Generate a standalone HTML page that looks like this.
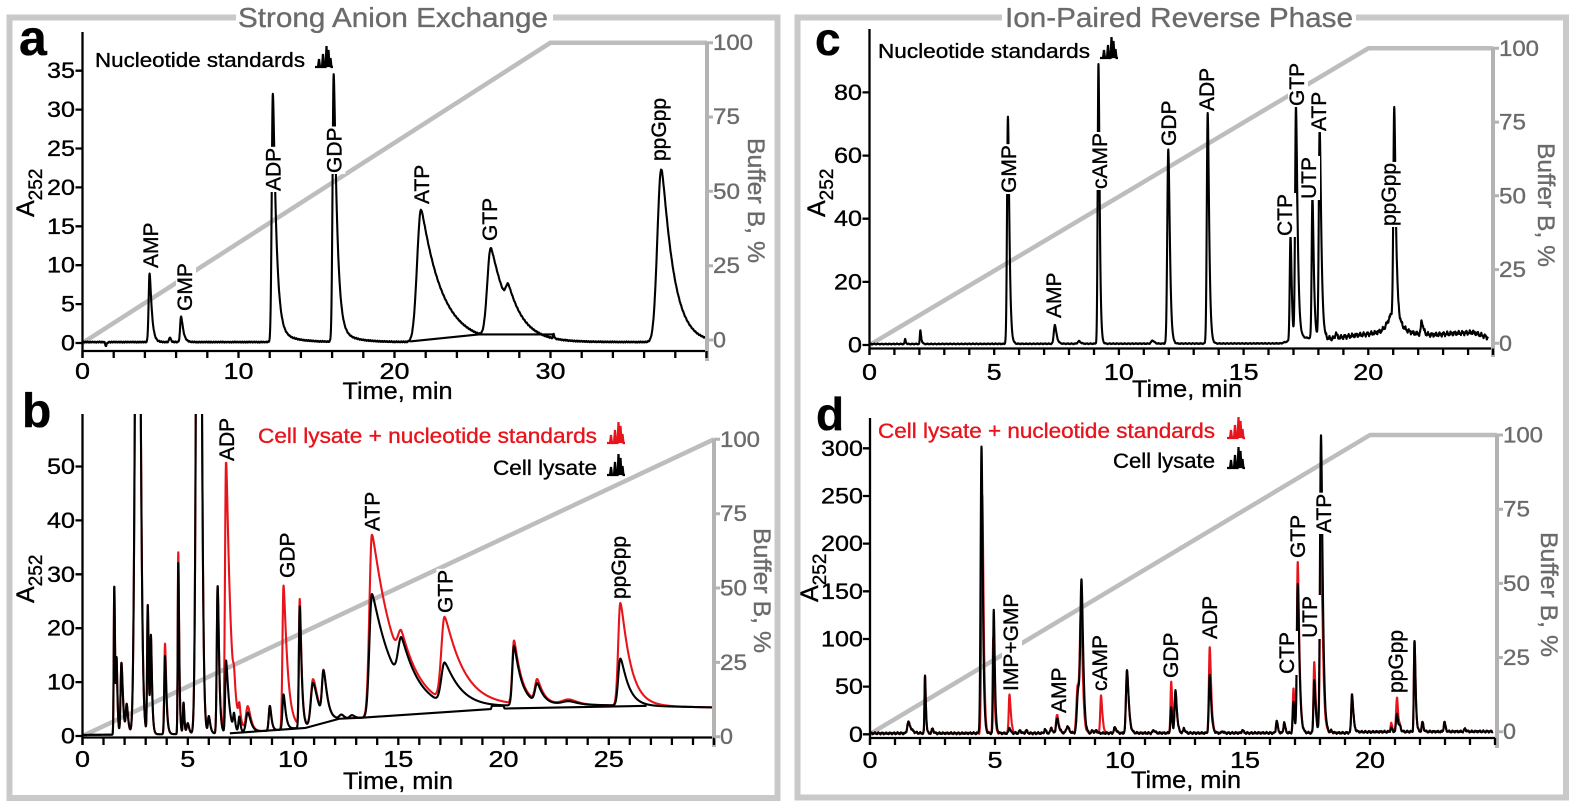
<!DOCTYPE html>
<html><head><meta charset="utf-8">
<style>
html,body{margin:0;padding:0;background:#fff;}
svg{display:block;font-family:"Liberation Sans",Arial,sans-serif;}
text{stroke:#000;stroke-width:0.35px;}
.yt{font-size:22px;text-anchor:end;}
.xt{font-size:23px;text-anchor:middle;}
.rt{font-size:22px;fill:#6b6b6b;}
.rt text,.gt{stroke:#6b6b6b;}
.rd{stroke:#e8141c;}
.pl{font-size:21px;}
.ax{stroke:#000;stroke-width:2.3;fill:none;}
.rax{stroke:#b3b3b3;stroke-width:4;fill:none;}
.grd{stroke:#bdbdbd;stroke-width:4.5;fill:none;stroke-linejoin:round;}
.frm{stroke:#c9c9c9;stroke-width:6;fill:none;}
.blk{stroke:#000;stroke-width:2.1;fill:none;stroke-linejoin:round;}
.red{stroke:#e8141c;stroke-width:2.1;fill:none;stroke-linejoin:round;}
.ic{stroke-width:2.2;fill:none;}
</style></head><body>
<svg id="s" width="1575" height="807" viewBox="0 0 1575 807" xmlns="http://www.w3.org/2000/svg">
<defs>
<clipPath id="cb"><rect x="83" y="414" width="640" height="340"/></clipPath>
<clipPath id="cd"><rect x="871" y="418" width="630" height="330"/></clipPath>
</defs>
<rect width="1575" height="807" fill="#fff"/>

<!-- frames -->
<path class="frm" d="M236,17.5 H9.5 V798 H777.5 V17.5 H553"/>
<path class="frm" d="M1002,17.5 H797.5 V797.5 H1566 V17.5 H1356"/>
<text class="gt" x="238" y="27" font-size="28" fill="#6b6b6b" textLength="310" lengthAdjust="spacingAndGlyphs">Strong Anion Exchange</text>
<text class="gt" x="1005" y="27" font-size="28" fill="#6b6b6b" textLength="348" lengthAdjust="spacingAndGlyphs">Ion-Paired Reverse Phase</text>

<!-- gradients -->
<path class="grd" d="M82.5,343 L550.5,42.7 L707,42.7"/>
<path class="grd" d="M82.5,736 L714,439.3"/>
<path class="grd" d="M869.5,345 L1368.3,48.3 L1493,48.3"/>
<path class="grd" d="M870,734 L1370,435 L1497,435"/>

<!-- data -->
<g id="dA"></g>
<g id="dB" clip-path="url(#cb)"></g>
<g id="dC"></g>
<g id="dD" clip-path="url(#cd)"></g>

<!-- axes -->
<g id="axes">
<path class="ax" d="M82.5,32 V358 M82.5,351 H706.5"/>
<path class="ax" d="M82.5,414 V745 M82.5,737.5 H714"/>
<path class="ax" d="M869.5,29 V355 M869.5,348.5 H1493"/>
<path class="ax" d="M870,418 V745 M870,738 H1495"/>
<path class="rax" d="M707,42 V361"/>
<path class="rax" d="M714,439 V747"/>
<path class="rax" d="M1493,48 V357"/>
<path class="rax" d="M1497,435 V748"/>
</g>
<g id="ticks"></g>

<!-- panel letters -->
<text x="19" y="55" font-size="50" font-weight="bold">a</text>
<text x="22" y="427" font-size="48" font-weight="bold">b</text>
<text x="815" y="55" font-size="46" font-weight="bold">c</text>
<text x="816" y="430" font-size="46" font-weight="bold">d</text>

<!-- A252 -->
<text transform="translate(34,217) rotate(-90)" font-size="25">A<tspan font-size="19" dy="8">252</tspan></text>
<text transform="translate(34,603) rotate(-90)" font-size="25">A<tspan font-size="19" dy="8">252</tspan></text>
<text transform="translate(825,217) rotate(-90)" font-size="25">A<tspan font-size="19" dy="8">252</tspan></text>
<text transform="translate(818,602) rotate(-90)" font-size="25">A<tspan font-size="19" dy="8">252</tspan></text>

<!-- Buffer B -->
<text class="gt" transform="translate(748,138) rotate(90)" font-size="24" fill="#6b6b6b" textLength="125" lengthAdjust="spacingAndGlyphs">Buffer B, %</text>
<text class="gt" transform="translate(754,528) rotate(90)" font-size="24" fill="#6b6b6b" textLength="125" lengthAdjust="spacingAndGlyphs">Buffer B, %</text>
<text class="gt" transform="translate(1538,143) rotate(90)" font-size="24" fill="#6b6b6b" textLength="124" lengthAdjust="spacingAndGlyphs">Buffer B, %</text>
<text class="gt" transform="translate(1541,532) rotate(90)" font-size="24" fill="#6b6b6b" textLength="125" lengthAdjust="spacingAndGlyphs">Buffer B, %</text>

<!-- Time labels -->
<text x="342.5" y="399" font-size="24" textLength="110" lengthAdjust="spacingAndGlyphs">Time, min</text>
<text x="343" y="789" font-size="24" textLength="110" lengthAdjust="spacingAndGlyphs">Time, min</text>
<text x="1132" y="397" font-size="24" textLength="110" lengthAdjust="spacingAndGlyphs">Time, min</text>
<text x="1131" y="788" font-size="24" textLength="110" lengthAdjust="spacingAndGlyphs">Time, min</text>

<!-- panel a tick labels -->
<g class="yt">
<text x="75" y="350.5" textLength="14" lengthAdjust="spacingAndGlyphs">0</text>
<text x="75" y="311.6" textLength="14" lengthAdjust="spacingAndGlyphs">5</text>
<text x="75" y="272.7" textLength="28" lengthAdjust="spacingAndGlyphs">10</text>
<text x="75" y="233.8" textLength="28" lengthAdjust="spacingAndGlyphs">15</text>
<text x="75" y="194.9" textLength="28" lengthAdjust="spacingAndGlyphs">20</text>
<text x="75" y="156" textLength="28" lengthAdjust="spacingAndGlyphs">25</text>
<text x="75" y="117.1" textLength="28" lengthAdjust="spacingAndGlyphs">30</text>
<text x="75" y="78.2" textLength="28" lengthAdjust="spacingAndGlyphs">35</text>
</g>
<g class="xt">
<text x="82.5" y="379" textLength="15" lengthAdjust="spacingAndGlyphs">0</text>
<text x="238.5" y="379" textLength="30" lengthAdjust="spacingAndGlyphs">10</text>
<text x="394.5" y="379" textLength="30" lengthAdjust="spacingAndGlyphs">20</text>
<text x="550.5" y="379" textLength="30" lengthAdjust="spacingAndGlyphs">30</text>
</g>
<g class="rt">
<text x="713" y="50.2" textLength="40" lengthAdjust="spacingAndGlyphs">100</text>
<text x="713" y="124.2" textLength="27" lengthAdjust="spacingAndGlyphs">75</text>
<text x="713" y="199.2" textLength="27" lengthAdjust="spacingAndGlyphs">50</text>
<text x="713" y="273.2" textLength="27" lengthAdjust="spacingAndGlyphs">25</text>
<text x="713" y="347.5" textLength="13" lengthAdjust="spacingAndGlyphs">0</text>
</g>

<!-- panel b tick labels -->
<g class="yt">
<text x="75" y="743.5" textLength="14" lengthAdjust="spacingAndGlyphs">0</text>
<text x="75" y="689.6" textLength="28" lengthAdjust="spacingAndGlyphs">10</text>
<text x="75" y="635.7" textLength="28" lengthAdjust="spacingAndGlyphs">20</text>
<text x="75" y="581.8" textLength="28" lengthAdjust="spacingAndGlyphs">30</text>
<text x="75" y="527.9" textLength="28" lengthAdjust="spacingAndGlyphs">40</text>
<text x="75" y="474" textLength="28" lengthAdjust="spacingAndGlyphs">50</text>
</g>
<g class="xt">
<text x="82.5" y="767" textLength="15" lengthAdjust="spacingAndGlyphs">0</text>
<text x="187.75" y="767" textLength="15" lengthAdjust="spacingAndGlyphs">5</text>
<text x="293" y="767" textLength="30" lengthAdjust="spacingAndGlyphs">10</text>
<text x="398.25" y="767" textLength="30" lengthAdjust="spacingAndGlyphs">15</text>
<text x="503.5" y="767" textLength="30" lengthAdjust="spacingAndGlyphs">20</text>
<text x="608.75" y="767" textLength="30" lengthAdjust="spacingAndGlyphs">25</text>
</g>
<g class="rt">
<text x="720" y="446.8" textLength="40" lengthAdjust="spacingAndGlyphs">100</text>
<text x="720" y="521.2" textLength="27" lengthAdjust="spacingAndGlyphs">75</text>
<text x="720" y="595.5" textLength="27" lengthAdjust="spacingAndGlyphs">50</text>
<text x="720" y="669.9" textLength="27" lengthAdjust="spacingAndGlyphs">25</text>
<text x="720" y="744.2" textLength="13" lengthAdjust="spacingAndGlyphs">0</text>
</g>

<!-- panel c tick labels -->
<g class="yt">
<text x="862" y="352.5" textLength="14" lengthAdjust="spacingAndGlyphs">0</text>
<text x="862" y="289.4" textLength="28" lengthAdjust="spacingAndGlyphs">20</text>
<text x="862" y="226.2" textLength="28" lengthAdjust="spacingAndGlyphs">40</text>
<text x="862" y="163.1" textLength="28" lengthAdjust="spacingAndGlyphs">60</text>
<text x="862" y="99.9" textLength="28" lengthAdjust="spacingAndGlyphs">80</text>
</g>
<g class="xt">
<text x="869.5" y="380" textLength="15" lengthAdjust="spacingAndGlyphs">0</text>
<text x="994.2" y="380" textLength="15" lengthAdjust="spacingAndGlyphs">5</text>
<text x="1118.9" y="380" textLength="30" lengthAdjust="spacingAndGlyphs">10</text>
<text x="1243.6" y="380" textLength="30" lengthAdjust="spacingAndGlyphs">15</text>
<text x="1368.3" y="380" textLength="30" lengthAdjust="spacingAndGlyphs">20</text>
</g>
<g class="rt">
<text x="1499" y="55.8" textLength="40" lengthAdjust="spacingAndGlyphs">100</text>
<text x="1499" y="129.5" textLength="27" lengthAdjust="spacingAndGlyphs">75</text>
<text x="1499" y="203.3" textLength="27" lengthAdjust="spacingAndGlyphs">50</text>
<text x="1499" y="277" textLength="27" lengthAdjust="spacingAndGlyphs">25</text>
<text x="1499" y="350.8" textLength="13" lengthAdjust="spacingAndGlyphs">0</text>
</g>

<!-- panel d tick labels -->
<g class="yt">
<text x="863" y="741.8" textLength="14" lengthAdjust="spacingAndGlyphs">0</text>
<text x="863" y="694.1" textLength="28" lengthAdjust="spacingAndGlyphs">50</text>
<text x="863" y="646.5" textLength="42" lengthAdjust="spacingAndGlyphs">100</text>
<text x="863" y="598.8" textLength="42" lengthAdjust="spacingAndGlyphs">150</text>
<text x="863" y="551.1" textLength="42" lengthAdjust="spacingAndGlyphs">200</text>
<text x="863" y="503.5" textLength="42" lengthAdjust="spacingAndGlyphs">250</text>
<text x="863" y="455.8" textLength="42" lengthAdjust="spacingAndGlyphs">300</text>
</g>
<g class="xt">
<text x="870" y="768" textLength="15" lengthAdjust="spacingAndGlyphs">0</text>
<text x="995" y="768" textLength="15" lengthAdjust="spacingAndGlyphs">5</text>
<text x="1120" y="768" textLength="30" lengthAdjust="spacingAndGlyphs">10</text>
<text x="1245" y="768" textLength="30" lengthAdjust="spacingAndGlyphs">15</text>
<text x="1370" y="768" textLength="30" lengthAdjust="spacingAndGlyphs">20</text>
</g>
<g class="rt">
<text x="1503" y="442.5" textLength="40" lengthAdjust="spacingAndGlyphs">100</text>
<text x="1503" y="516.7" textLength="27" lengthAdjust="spacingAndGlyphs">75</text>
<text x="1503" y="590.9" textLength="27" lengthAdjust="spacingAndGlyphs">50</text>
<text x="1503" y="665" textLength="27" lengthAdjust="spacingAndGlyphs">25</text>
<text x="1503" y="739.2" textLength="13" lengthAdjust="spacingAndGlyphs">0</text>
</g>

<!-- legends -->
<text x="95" y="67" font-size="20" textLength="210" lengthAdjust="spacingAndGlyphs">Nucleotide standards</text>
<text x="878" y="58" font-size="20" textLength="212" lengthAdjust="spacingAndGlyphs">Nucleotide standards</text>
<text class="rd" x="258" y="443" font-size="21" fill="#e8141c" textLength="339" lengthAdjust="spacingAndGlyphs">Cell lysate + nucleotide standards</text>
<text x="493" y="475" font-size="21" textLength="104" lengthAdjust="spacingAndGlyphs">Cell lysate</text>
<text class="rd" x="878" y="438" font-size="21" fill="#e8141c" textLength="337" lengthAdjust="spacingAndGlyphs">Cell lysate + nucleotide standards</text>
<text x="1113" y="468" font-size="21" textLength="102" lengthAdjust="spacingAndGlyphs">Cell lysate</text>
<g id="icons"></g>

<!-- peak labels -->
<g id="plab">
<text class="pl" transform="translate(158,268) rotate(-90)">AMP</text>
<text class="pl" transform="translate(192,311) rotate(-90)">GMP</text>
<text class="pl" transform="translate(280.5,191) rotate(-90)">ADP</text>
<text class="pl" transform="translate(341.5,173) rotate(-90)">GDP</text>
<text class="pl" transform="translate(429,204) rotate(-90)">ATP</text>
<text class="pl" transform="translate(497,241) rotate(-90)">GTP</text>
<text class="pl" transform="translate(666,161) rotate(-90)">ppGpp</text>

<text class="pl" transform="translate(234,461) rotate(-90)">ADP</text>
<text class="pl" transform="translate(294.5,578) rotate(-90)">GDP</text>
<text class="pl" transform="translate(379.5,531) rotate(-90)">ATP</text>
<text class="pl" transform="translate(452.5,613) rotate(-90)">GTP</text>
<text class="pl" transform="translate(626,599) rotate(-90)">ppGpp</text>

<text class="pl" transform="translate(1016,193) rotate(-90)">GMP</text>
<text class="pl" transform="translate(1061,318) rotate(-90)">AMP</text>
<text class="pl" transform="translate(1107,189) rotate(-90)">cAMP</text>
<text class="pl" transform="translate(1176,146) rotate(-90)">GDP</text>
<text class="pl" transform="translate(1214,111) rotate(-90)">ADP</text>
<text class="pl" transform="translate(1292,236) rotate(-90)">CTP</text>
<text class="pl" transform="translate(1304,106) rotate(-90)">GTP</text>
<text class="pl" transform="translate(1316,199) rotate(-90)">UTP</text>
<text class="pl" transform="translate(1326,131) rotate(-90)">ATP</text>
<text class="pl" transform="translate(1396,226) rotate(-90)">ppGpp</text>

<text class="pl" transform="translate(1018,691) rotate(-90)">IMP+GMP</text>
<text class="pl" transform="translate(1066,713) rotate(-90)">AMP</text>
<text class="pl" transform="translate(1107,691) rotate(-90)">cAMP</text>
<text class="pl" transform="translate(1178,678) rotate(-90)">GDP</text>
<text class="pl" transform="translate(1217,639) rotate(-90)">ADP</text>
<text class="pl" transform="translate(1294,674) rotate(-90)">CTP</text>
<text class="pl" transform="translate(1305,558) rotate(-90)">GTP</text>
<text class="pl" transform="translate(1317,638) rotate(-90)">UTP</text>
<text class="pl" transform="translate(1331,533) rotate(-90)">ATP</text>
<text class="pl" transform="translate(1403,693) rotate(-90)">ppGpp</text>
</g>
</svg>

<script>
(function(){
var NS='http://www.w3.org/2000/svg';
function el(parent,tag,attrs){var e=document.createElementNS(NS,tag);for(var k in attrs)e.setAttribute(k,attrs[k]);parent.appendChild(e);return e;}
function lerp(pts,t){if(t<=pts[0][0])return pts[0][1];for(var i=1;i<pts.length;i++){if(t<=pts[i][0]){var a=pts[i-1],b=pts[i];return a[1]+(b[1]-a[1])*(t-a[0])/(b[0]-a[0]);}}return pts[pts.length-1][1];}
function pk(t,p){var t0=p[0],h=p[1],sl=p[2],s=(p[3]!==undefined?p[3]:p[2]),k=(p[4]!==undefined?p[4]:p[2]*0.8);var d=t-t0;
 if(d<0){if(d<-8*sl)return 0;return h*Math.exp(-0.5*d*d/(sl*sl));}
 var e=d*d/(2*s*s+d*k);return e>40?0:h*Math.exp(-e);}
function noise(t,a){return a*(0.5*Math.sin(41.3*t)+0.3*Math.sin(97.1*t+1.3)+0.2*Math.sin(187.7*t+2.1));}
function trace(c,peaks){var d='',n=Math.round((c.t1-c.t0)/c.dt);
 for(var i=0;i<=n;i++){var t=c.t0+i*c.dt,v=c.base?c.base(t):0;for(var j=0;j<peaks.length;j++)v+=pk(t,peaks[j]);
  var X=c.x0+t*c.pxm,Y=c.y0-v*c.pxu;if(Y<-50)Y=-50;d+=(i?'L':'M')+X.toFixed(2)+' '+Y.toFixed(2);}
 return d;}
function poly(c,pts){var d='';for(var i=0;i<pts.length;i++){d+=(i?'L':'M')+(c.x0+pts[i][0]*c.pxm).toFixed(2)+' '+(c.y0-pts[i][1]*c.pxu).toFixed(2);}return d;}
function mod(list,changes){var out=list.map(function(p){return p.slice();});
 changes.forEach(function(ch){var f=false;for(var i=0;i<out.length;i++){if(Math.abs(out[i][0]-ch[0])<0.005){for(var j=1;j<ch.length&&j<5;j++)if(ch[j]!==null)out[i][j]=ch[j];if(ch.length>=6)out[i][0]=ch[5];f=true;break;}}
 if(!f)out.push(ch.slice(0,5));});return out;}

/* ---------- Panel a ---------- */
var A={x0:82.5,pxm:15.6,y0:343,pxu:7.78,t0:0,t1:40,dt:0.01,base:function(t){return 0.12+noise(t,0.08);}};
var pa=[[1.5,-0.5,0.04],[4.3,8.8,0.06,0.07,0.12],[5.6,0.6,0.05],[6.32,3.3,0.06,0.07,0.12],
[12.2,30.5,0.07,0.08,0.2],[12.25,1.6,0.1,0.2,1.0],
[16.1,33,0.07,0.08,0.2],[16.15,1.6,0.1,0.2,1.0],
[21.7,17,0.25,0.25,1.3],[26.17,11.5,0.22,0.25,1.15],[27.3,2.5,0.15,0.2,0.8],
[30.2,0.6,0.03],[37.1,22.2,0.25,0.25,0.72]];
var gA=document.getElementById('dA');
el(gA,'path',{d:trace(A,pa),'class':'blk'});
el(gA,'path',{d:poly(A,[[21.0,0.2],[25.4,1.1],[30.2,1.1]]),'class':'blk'});

/* ---------- Panel b ---------- */
var bpts=[[0,0.2],[6,0.4],[8,0.8],[9,1.0],[10.5,1.6],[12,3.0],[13.3,3.4],[19.4,5.2],[22,5.9],[25,5.7],[30,5.3]];
var B={x0:82.5,pxm:21.05,y0:736,pxu:5.39,t0:0,t1:30,dt:0.004,base:function(t){return lerp(bpts,t);}};
var pbk=[[1.51,27.5,0.025,0.03,0.02],[1.62,13,0.025,0.03,0.03],[1.85,13.3,0.04,0.045,0.06],[2.1,5.2,0.04,0.05,0.05],
[2.62,150,0.1,0.1,0.03],[3.1,23.8,0.03,0.035,0.03],[3.25,17.5,0.03,0.035,0.04],[3.92,14.5,0.035,0.04,0.05],
[4.55,31.8,0.025,0.03,0.03],[4.8,5.8,0.03],[5.0,2,0.05],[5.52,200,0.09,0.09,0.03],[6.0,3.2,0.04,0.05,0.05],
[6.42,27.3,0.04,0.045,0.05],[6.82,13.4,0.04,0.06,0.12],[7.2,2.8,0.04],[7.45,2.8,0.04],[7.85,3.6,0.08,0.1,0.1],
[8.9,4.6,0.05,0.05,0.06],[9.55,6.5,0.05,0.06,0.08],[10.32,22.5,0.04,0.05,0.07],[10.95,7.8,0.1,0.15,0.2],
[11.45,8.3,0.07,0.1,0.15],[12.3,0.8,0.1],[12.8,0.6,0.1],[13.75,22.8,0.12,0.2,1.04],[15.15,8,0.15,0.2,0.8],
[17.2,7.5,0.15,0.22,0.8],[20.5,11,0.08,0.1,0.35],[21.6,3.4,0.1,0.12,0.25],[23.1,0.6,0.3],[25.55,8.7,0.1,0.15,0.35]];
var pbr=mod(pbk,[[3.92,16.8],[4.55,33.8],[6.82,50.5,0.05,0.07,0.2],[7.85,4.4],[9.55,26.7,0.05,0.07,0.18],
[10.32,23.4],[10.95,8.5],[13.75,33.8,0.12,0.2,1.1],[15.15,5.5],[17.2,15.5,0.15,0.22,0.95],[20.5,11.6],[21.6,4.0],
[23.1,0.9],[25.55,19,0.1,0.15,0.45]]);
var gB=document.getElementById('dB');
el(gB,'path',{d:trace(B,pbr),'class':'red'});
el(gB,'path',{d:trace(B,pbk),'class':'blk'});
el(gB,'path',{d:poly(B,[[7,0.5],[10.6,1.5],[12.2,3.2],[13.3,3.4],[19.4,5.0],[19.45,5.6],[20,5.6],[20.05,5.1],[26.8,5.6]]),'class':'blk'});

/* ---------- Panel c ---------- */
var cpts=[[0,0.3],[16.5,0.5],[16.9,1.5],[17.3,2.3],[18.5,2.0],[19,2.6],[20,3.5],[20.6,4.3],[21.5,3.8],[22.5,3.2],[23.5,3.7],[24.2,4.0],[24.8,2.4]];
var C={x0:869.5,pxm:24.94,y0:345,pxu:3.157,t0:0,t1:24.8,dt:0.004,base:function(t){return lerp(cpts,t)+noise(t,t>18.3?0.8:0.18);}};
var pc=[[1.43,1.5,0.02],[2.04,4.3,0.02,0.02,0.03],[5.55,72,0.035,0.04,0.04],[7.43,6,0.04,0.045,0.05],[8.4,0.8,0.05],
[9.18,88.5,0.03,0.035,0.03],[11.35,1,0.05],[11.98,61.5,0.04,0.045,0.04],[13.56,73,0.035,0.04,0.04],
[16.88,33,0.03,0.035,0.03],[17.1,73.5,0.035,0.04,0.05],[17.76,45,0.03,0.035,0.04],[18.05,66.5,0.035,0.04,0.05],
[18.7,1.5,0.03],[21.04,65,0.035,0.04,0.05],[21.0,6,0.2,0.2,0.15],[22.14,4.2,0.03,0.04,0.05]];
var gC=document.getElementById('dC');
el(gC,'path',{d:trace(C,pc),'class':'blk'});

/* ---------- Panel d ---------- */
var dpts=[[0,1],[19,1.5],[19.5,2.5],[25,3]];
var D={x0:870,pxm:25,y0:734.3,pxu:0.9533,t0:0,t1:24.9,dt:0.004,base:function(t){return lerp(dpts,t)+noise(t,1.2);}};
var pdk=[[1.53,12,0.04,0.05,0.1],[2.2,60,0.02,0.025,0.02],[2.5,5,0.03],[4.46,300,0.035,0.04,0.03],[4.95,130,0.025,0.03,0.03],
[5.58,6,0.03],[6.0,3,0.03],[6.25,3,0.03],[7.0,4,0.03],[7.25,6,0.03],[7.48,15,0.04,0.05,0.05],[7.9,7,0.05],
[8.33,46,0.05,0.05,0.04],[8.46,153,0.045,0.05,0.04],[8.9,3,0.03],[9.05,3,0.03],[9.8,6,0.04],[10.28,66,0.04,0.045,0.05],
[11.35,3,0.04],[12.05,26,0.03],[12.22,44,0.035,0.04,0.04],[12.56,5,0.03],[13.59,60,0.035,0.04,0.04],[14.1,2,0.03],
[14.9,3,0.03],[16.27,13,0.03],[16.57,11,0.03],[16.94,32,0.03],[17.11,156,0.035,0.04,0.05],[17.77,56,0.03,0.035,0.04],
[18.04,312,0.04,0.045,0.05],[18.45,2,0.03],[19.28,40,0.03,0.035,0.04],[20.85,4,0.03],[21.08,19,0.035],[21.2,5,0.03],
[21.78,95,0.025,0.03,0.03],[22.1,10,0.03],[22.98,10,0.03],[23.8,3,0.03]];
var pdr=mod(pdk,[[4.46,250,null,null,null,4.49],[4.95,100,null,null,null,4.93],[5.58,41,0.03,0.035,0.04],[7.48,19],
[8.33,50,null,null,null,8.31],[8.46,120,null,null,null,8.44],[9.24,40,0.03,0.035,0.04],[12.05,53],[12.22,42],[13.59,89],
[16.94,46],[17.11,179],[17.77,75],[18.04,208],[21.08,36],[20.85,9]]);
var gD=document.getElementById('dD');
el(gD,'path',{d:trace(D,pdr),'class':'red'});
el(gD,'path',{d:trace(D,pdk),'class':'blk'});

/* ---------- ticks ---------- */
var gt=document.getElementById('ticks');
var s='';
for(var v=0;v<=35;v+=5){var y=343-v*7.78;s+='M75.5,'+y.toFixed(1)+'H82.5';}
for(var t=0;t<=40;t+=2){var x=82.5+t*15.6;s+='M'+x.toFixed(1)+',351V358';}
for(v=0;v<=50;v+=10){y=736-v*5.39;s+='M75.5,'+y.toFixed(1)+'H82.5';}
for(t=0;t<=30;t+=1){x=82.5+t*21.05;s+='M'+x.toFixed(1)+',737.5V745';}
for(v=0;v<=80;v+=20){y=345-v*3.157;s+='M862.5,'+y.toFixed(1)+'H869.5';}
for(t=0;t<=25;t+=1){x=869.5+t*24.94;s+='M'+x.toFixed(1)+',348.5V355';}
for(v=0;v<=300;v+=50){y=734.3-v*0.9533;s+='M863,'+y.toFixed(1)+'H870';}
for(t=0;t<=25;t+=1){x=870+t*25;s+='M'+x.toFixed(1)+',738V745';}
el(gt,'path',{d:s,'class':'ax'});
var r='';
[[707,42.7,340],[714,439.3,736.7],[1493,48.3,343.3],[1497,435,731.7]].forEach(function(a){for(var i=0;i<=4;i++){var yy=a[2]-(a[2]-a[1])*i/4;r+='M'+a[0]+','+yy.toFixed(1)+'H'+(a[0]+6);}});
el(gt,'path',{d:r,stroke:'#b3b3b3','stroke-width':3,fill:'none'});

/* ---------- legend icons ---------- */
var gi=document.getElementById('icons');
var icon='M0,21 L3,21 L4,13 L5,21 L7,21 L8,8 L9,21 L10.5,21 L11.5,0 L12.5,21 L13.5,4 L14.5,21 L15.5,12 L16.5,21 L18,21';
[[315,46,'#000'],[1100,37,'#000'],[607,422,'#e8141c'],[607,454,'#000'],[1227,417,'#e8141c'],[1227,447,'#000']].forEach(function(p){
 el(gi,'path',{d:icon,transform:'translate('+p[0]+','+p[1]+')',stroke:p[2],'class':'ic'});});

/* ---------- label backgrounds ---------- */
var labs=document.querySelectorAll('#plab text.pl');
for(var i=0;i<labs.length;i++){var tx=labs[i];var bb=tx.getBBox();
 var rc=document.createElementNS(NS,'rect');
 rc.setAttribute('x',bb.x-1);rc.setAttribute('y',bb.y+2);rc.setAttribute('width',bb.width+2);rc.setAttribute('height',Math.max(0,bb.height-3));
 rc.setAttribute('fill','#fff');rc.setAttribute('transform',tx.getAttribute('transform'));
 tx.parentNode.insertBefore(rc,tx);}
})();
</script>
</body></html>
